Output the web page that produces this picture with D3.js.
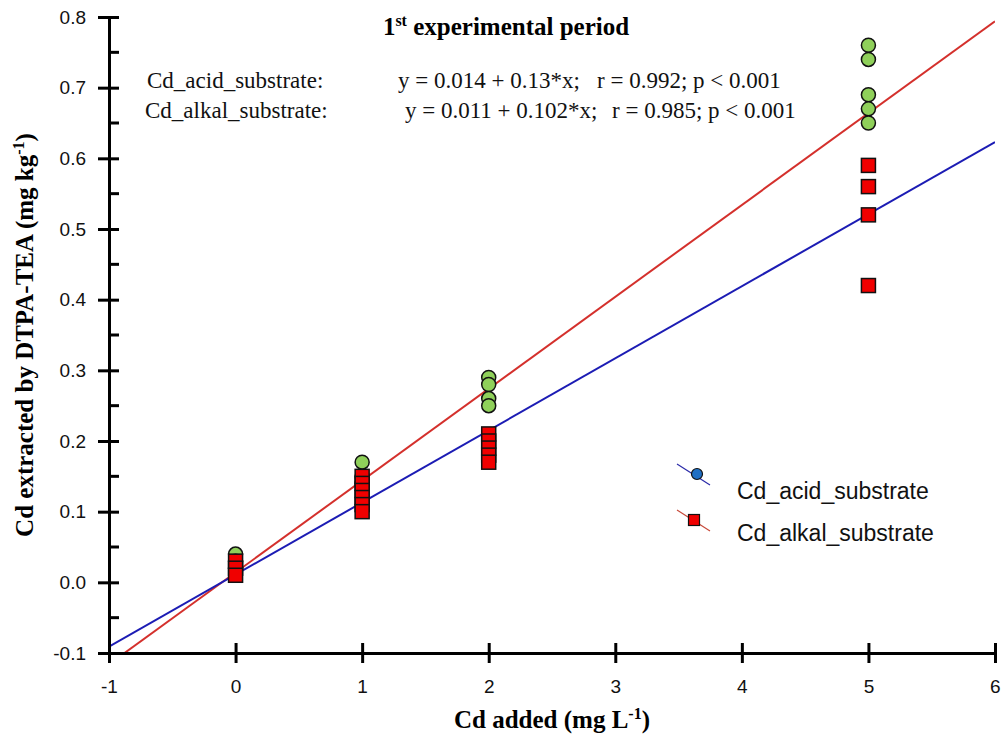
<!DOCTYPE html>
<html>
<head>
<meta charset="utf-8">
<script src="https://cdnjs.cloudflare.com/ajax/libs/d3/7.8.5/d3.min.js"></script>
<style>
  body { margin: 0; background: #fff; }
  svg text { white-space: pre; }
</style>
</head>
<body>
<div id="chart"></div>
<script>
// data
var doses = [0, 1, 2, 5];
var acidValues = [
  [0.04, 0.03, 0.02],
  [0.17, 0.15, 0.14],
  [0.29, 0.28, 0.26, 0.25],
  [0.76, 0.74, 0.69, 0.67, 0.65]
];
var alkalValues = [
  [0.03, 0.02, 0.01],
  [0.15, 0.14, 0.13, 0.12, 0.11, 0.10],
  [0.21, 0.20, 0.19, 0.18, 0.17],
  [0.59, 0.56, 0.52, 0.42]
];
// fitted lines as drawn: [intercept, slope]
var redFit = [0.014, 0.13];
var blueFit = [0.011, 0.102];
var xTicks = [-1, 0, 1, 2, 3, 4, 5, 6];
var yTicks = [-0.1, 0, 0.1, 0.2, 0.3, 0.4, 0.5, 0.6, 0.7, 0.8];
var yMinor = [-0.05, 0.05, 0.15, 0.25, 0.35, 0.45, 0.55, 0.65, 0.75];
var seriesNames = ['Cd_acid_substrate', 'Cd_alkal_substrate'];
var equations = [
  ['Cd_acid_substrate:', 'y = 0.014 + 0.13*x;', 'r = 0.992; p < 0.001'],
  ['Cd_alkal_substrate:', 'y = 0.011 + 0.102*x;', 'r = 0.985; p < 0.001']
];

var width = 1005, height = 745;
var svg = d3.select('#chart').append('svg')
  .attr('width', width)
  .attr('height', height);

var x = d3.scaleLinear().domain([-1, 6]).range([109, 995]);
var y = d3.scaleLinear().domain([-0.1, 0.8]).range([653, 17]);

svg.append('defs').append('clipPath').attr('id', 'plot')
  .append('rect')
  .attr('x', x(-1)).attr('y', y(0.8))
  .attr('width', x(6) - x(-1)).attr('height', y(-0.1) - y(0.8));

// regression lines
var fitLine = function(fit, color) {
  var pts = [-1, 6].map(function(v) { return [v, fit[0] + fit[1] * v]; });
  svg.append('path')
    .attr('clip-path', 'url(#plot)')
    .attr('d', d3.line().x(function(d) { return x(d[0]); }).y(function(d) { return y(d[1]); })(pts))
    .attr('fill', 'none')
    .attr('stroke', color)
    .attr('stroke-width', 2);
};
fitLine(redFit, '#d4302c');
fitLine(blueFit, '#1c1cb4');

// points
var flat = function(vals) {
  var out = [];
  vals.forEach(function(arr, i) {
    arr.forEach(function(v) { out.push([doses[i], v]); });
  });
  return out;
};

svg.append('g').selectAll('circle').data(flat(acidValues))
  .enter().append('circle')
  .attr('cx', function(d) { return x(d[0]); })
  .attr('cy', function(d) { return y(d[1]); })
  .attr('r', 7)
  .attr('fill', '#8fd05a')
  .attr('stroke', '#111')
  .attr('stroke-width', 1.5);

svg.append('g').selectAll('rect').data(flat(alkalValues))
  .enter().append('rect')
  .attr('x', function(d) { return x(d[0]) - 7; })
  .attr('y', function(d) { return y(d[1]) - 7; })
  .attr('width', 14)
  .attr('height', 14)
  .attr('fill', '#f00000')
  .attr('stroke', '#111')
  .attr('stroke-width', 1.5);

// axes - plain hyphen for negatives like the original
var sans = 'Liberation Sans, Arial, sans-serif';
var yAxis = d3.axisLeft(y).tickValues(yTicks).tickSize(0)
  .tickFormat(function(d) { return d.toFixed(1); }).tickPadding(23);
var gy = svg.append('g').attr('transform', 'translate(' + x(-1) + ',0)').call(yAxis);
gy.select('.domain').attr('stroke', '#000').attr('stroke-width', 3);
gy.selectAll('.tick line').remove();
gy.selectAll('.tick').append('line')
  .attr('x1', -11).attr('x2', 10)
  .attr('stroke', '#000').attr('stroke-width', 3);
gy.selectAll('text').attr('font-family', sans)
  .attr('font-size', 19).attr('fill', '#111');

svg.append('g').selectAll('line').data(yMinor)
  .enter().append('line')
  .attr('x1', x(-1)).attr('x2', x(-1) + 10)
  .attr('y1', function(d) { return y(d); })
  .attr('y2', function(d) { return y(d); })
  .attr('stroke', '#000').attr('stroke-width', 3);

var xAxis = d3.axisBottom(x).tickValues(xTicks).tickSize(0).tickPadding(27)
  .tickFormat(function(d) { return String(d); });
var gx = svg.append('g').attr('transform', 'translate(0,' + y(-0.1) + ')').call(xAxis);
gx.select('.domain').attr('stroke', '#000').attr('stroke-width', 3);
gx.selectAll('.tick line').remove();
gx.selectAll('.tick').append('line')
  .attr('y1', -10).attr('y2', 10)
  .attr('stroke', '#000').attr('stroke-width', 3);
gx.selectAll('text').attr('font-family', sans)
  .attr('font-size', 19).attr('fill', '#111');
gx.selectAll('.tick').filter(function(d) { return d === 6; }).select('text')
  .attr('text-anchor', 'end').attr('dx', 5);

// titles
var serif = 'Liberation Serif, Times New Roman, serif';
var title = svg.append('text')
  .attr('x', 506).attr('y', 35)
  .attr('text-anchor', 'middle')
  .attr('font-family', serif).attr('font-size', 25).attr('font-weight', 'bold');
title.append('tspan').text('1');
title.append('tspan').attr('dy', -9).attr('font-size', 16).text('st');
title.append('tspan').attr('dy', 9).text(' experimental period');

// equation rows, three columns each
var eqCols = [[147, 398, 597], [145, 405, 612]];
var eqBase = [88, 118];
equations.forEach(function(row, i) {
  var t = svg.append('text')
    .attr('y', eqBase[i])
    .attr('font-family', serif).attr('font-size', 23).attr('fill', '#111');
  row.forEach(function(part, j) {
    t.append('tspan').attr('x', eqCols[i][j]).text(part);
  });
});

var xl = svg.append('text')
  .attr('x', 552).attr('y', 728)
  .attr('text-anchor', 'middle')
  .attr('font-family', serif).attr('font-size', 25).attr('font-weight', 'bold');
xl.append('tspan').text('Cd added (mg L');
xl.append('tspan').attr('dy', -9).attr('font-size', 16).text('-1');
xl.append('tspan').attr('dy', 9).text(')');

var yl = svg.append('text')
  .attr('transform', 'translate(33,335) rotate(-90)')
  .attr('text-anchor', 'middle')
  .attr('font-family', serif).attr('font-size', 25).attr('font-weight', 'bold');
yl.append('tspan').text('Cd extracted by DTPA-TEA (mg kg');
yl.append('tspan').attr('dy', -9).attr('font-size', 16).text('-1');
yl.append('tspan').attr('dy', 9).text(')');

// legend
var legend = svg.append('g');
var legRows = [
  { name: seriesNames[0], line: '#2a2aa8', fill: '#1f6fc4', shape: 'circle', cx: 697, cy: 474, ty: 499 },
  { name: seriesNames[1], line: '#c84a3a', fill: '#f00000', shape: 'rect', cx: 694, cy: 520, ty: 541 }
];
legRows.forEach(function(r) {
  legend.append('line')
    .attr('x1', 677).attr('y1', r.cy - 10).attr('x2', 710).attr('y2', r.cy + 11)
    .attr('stroke', r.line).attr('stroke-width', 1.2);
  if (r.shape === 'circle') {
    legend.append('circle').attr('cx', r.cx).attr('cy', r.cy).attr('r', 5.5)
      .attr('fill', r.fill).attr('stroke', '#111').attr('stroke-width', 1.2);
  } else {
    legend.append('rect').attr('x', r.cx - 5.5).attr('y', r.cy - 5.5).attr('width', 11).attr('height', 11)
      .attr('fill', r.fill).attr('stroke', '#111').attr('stroke-width', 1.2);
  }
  legend.append('text')
    .attr('x', 737).attr('y', r.ty)
    .attr('font-family', sans).attr('font-size', 23)
    .attr('fill', '#111')
    .text(r.name);
});
</script>
</body>
</html>
